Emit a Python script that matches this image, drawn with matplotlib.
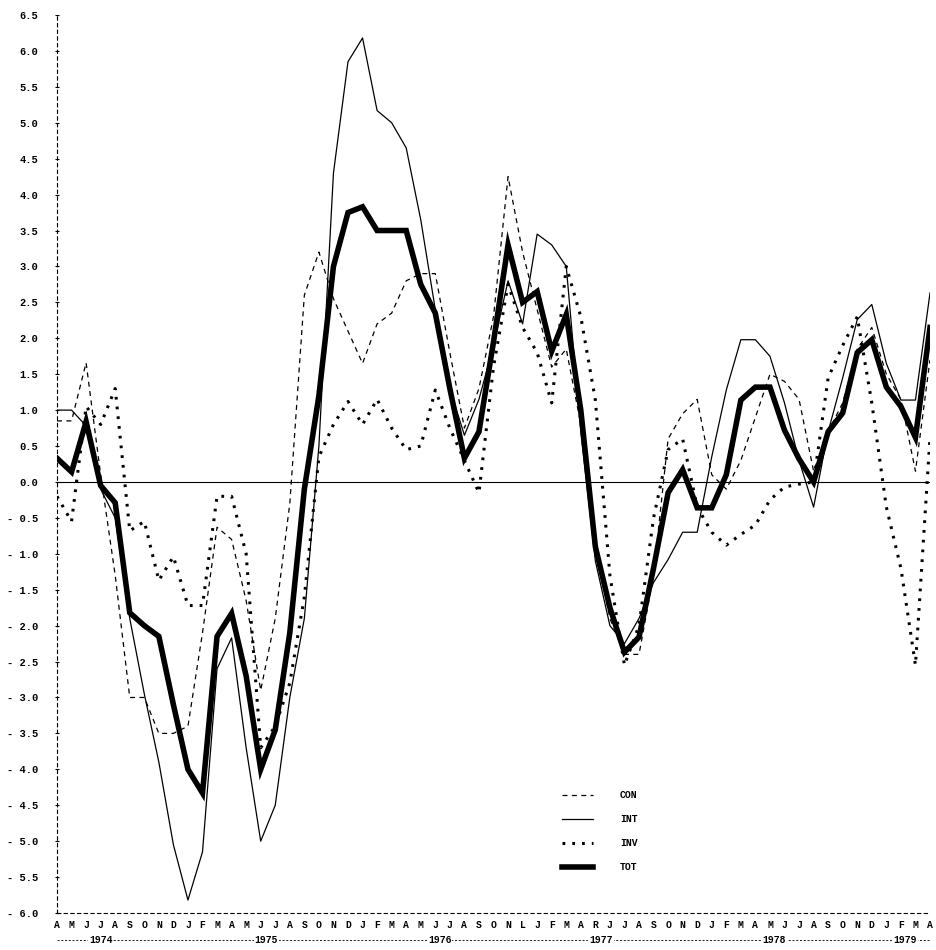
import numpy as np
import matplotlib
matplotlib.use("Agg")
import matplotlib.pyplot as plt
import matplotlib.transforms as mtransforms

## monthly values, April 1974 .. April 1979 (61 months)
MONTH_LABELS = list("AMJJASOND" "JFMAMJJASOND" "JFMAMJJASONL" "JFMARJJASOND" "JFMAMJJASOND" "JFMA")
YEARS = ["1974", "1975", "1976", "1977", "1978", "1979"]

CON = [0.85, 0.85, 1.66, 0.1, -1.3, -3.0, -3.0, -3.5, -3.5, -3.4,
       -2.1, -0.63, -0.8, -1.65, -2.9, -1.9, -0.3, 2.6, 3.2, 2.55,
       2.1, 1.65, 2.2, 2.35, 2.8, 2.9, 2.9, 1.8, 0.75, 1.3,
       2.3, 4.25, 3.2, 2.4, 1.6, 1.85, 0.8, -0.9, -1.9, -2.4,
       -2.4, -1.3, 0.6, 0.95, 1.15, 0.1, -0.1, 0.3, 0.9, 1.5,
       1.4, 1.15, 0.15, 0.7, 1.1, 1.85, 2.15, 1.5, 1.15, 0.15, 1.7]

INT = [1.0, 1.0, 0.78, -0.1, -0.5, -1.9, -2.95, -3.9, -5.05, -5.82,
       -5.15, -2.6, -2.17, -3.7, -5.0, -4.5, -3.0, -1.9, 0.5, 4.3,
       5.85, 6.18, 5.17, 5.0, 4.65, 3.65, 2.4, 1.3, 0.65, 1.15,
       1.9, 2.8, 2.2, 3.45, 3.3, 3.0, 0.7, -1.1, -2.0, -2.25,
       -1.9, -1.4, -1.08, -0.7, -0.7, 0.35, 1.28, 1.98, 1.98, 1.75,
       1.1, 0.3, -0.35, 0.7, 1.45, 2.26, 2.47, 1.65, 1.14, 1.14, 2.63]

INV = [-0.2, -0.55, 1.05, 0.8, 1.3, -0.68, -0.55, -1.37, -1.04, -1.72,
       -1.72, -0.2, -0.2, -1.0, -3.7, -3.4, -2.8, -1.6, 0.35, 0.8,
       1.12, 0.8, 1.15, 0.75, 0.45, 0.5, 1.28, 0.75, 0.3, -0.15,
       1.6, 2.75, 2.15, 1.8, 1.1, 3.0, 2.3, 1.14, -1.3, -2.55,
       -2.0, -0.5, 0.45, 0.6, -0.35, -0.7, -0.88, -0.73, -0.6, -0.25,
       -0.07, -0.03, 0.0, 1.45, 1.9, 2.3, 1.1, -0.35, -1.2, -2.55, 0.62]

TOT = [0.33, 0.14, 0.84, -0.05, -0.29, -1.82, -2.0, -2.15, -3.1, -4.0,
       -4.33, -2.15, -1.83, -2.7, -4.0, -3.45, -2.1, -0.1, 1.2, 3.0,
       3.75, 3.83, 3.5, 3.5, 3.5, 2.75, 2.35, 1.3, 0.33, 0.7,
       1.95, 3.3, 2.5, 2.65, 1.82, 2.33, 1.0, -0.9, -1.75, -2.37,
       -2.16, -1.2, -0.15, 0.17, -0.36, -0.36, 0.1, 1.14, 1.32, 1.32,
       0.72, 0.32, 0.0, 0.7, 0.96, 1.8, 1.98, 1.32, 1.05, 0.62, 2.15]

## where the year captions sit under the month row (month index)
YEAR_POS = [3.0, 14.4, 26.3, 37.4, 49.3, 58.3]

MONO = ["Liberation Mono", "DejaVu Sans Mono"]

fig = plt.figure(figsize=(9.37, 9.5), dpi=100)
ax = fig.add_axes([57 / 937, 37 / 950, 873 / 937, 898 / 950])

x = np.arange(len(TOT))
ax.plot(x, CON, color="black", linewidth=0.9, linestyle=(0, (4, 3.5)), label="CON")
ax.plot(x, INT, color="black", linewidth=0.9, linestyle="-", label="INT")
ax.plot(x, INV, color="black", linewidth=2.2, linestyle=(0, (0.9, 2.3)), label="INV")
ax.plot(x, TOT, color="black", linewidth=4.0, linestyle="-", solid_joinstyle="miter", label="TOT")

## zero line
ax.axhline(0.0, color="black", linewidth=0.8)

ax.set_xlim(0, len(TOT) - 1)
ax.set_ylim(-6.0, 6.5)

for s in ["top", "right"]:
    ax.spines[s].set_visible(False)
for s in ["left", "bottom"]:
    ax.spines[s].set_linestyle((0, (3, 3)))
    ax.spines[s].set_linewidth(0.8)

yt = np.arange(-6.0, 6.51, 0.5)
ax.set_yticks(yt)
ax.set_yticklabels(["- {:.1f}".format(-v) if v < -1e-9 else "{:.1f}".format(abs(v)) for v in yt],
                   family=MONO, fontsize=7.5, fontweight="bold")
ax.tick_params(axis="y", direction="inout", length=3, width=0.8, pad=12)

ax.set_xticks(x)
ax.set_xticklabels(MONTH_LABELS, family=MONO, fontsize=7, fontweight="bold")
ax.tick_params(axis="x", length=0, pad=5)

## year row: dashed rule with the year numbers typed into it
yrow = ax.get_xaxis_transform() + mtransforms.ScaledTranslation(0, -27 / 100, fig.dpi_scale_trans)
ax.plot([0, len(TOT) - 1], [0, 0], transform=yrow, clip_on=False,
        color="black", linewidth=0.6, linestyle=(0, (2.5, 2.0)))
for pos, yr in zip(YEAR_POS, YEARS):
    ax.text(pos, 0, yr, transform=yrow, ha="center", va="center",
            family=MONO, fontsize=7, fontweight="bold",
            bbox=dict(boxstyle="square,pad=0.1", fc="white", ec="none"))

leg = ax.legend(loc="upper left", bbox_to_anchor=(0.578, 0.137), frameon=False,
                prop={"family": MONO, "size": 7, "weight": "bold"},
                handlelength=3.2, handletextpad=2.8, labelspacing=1.45,
                borderpad=0, borderaxespad=0)

fig.savefig("out.png", dpi=100, facecolor="white")
